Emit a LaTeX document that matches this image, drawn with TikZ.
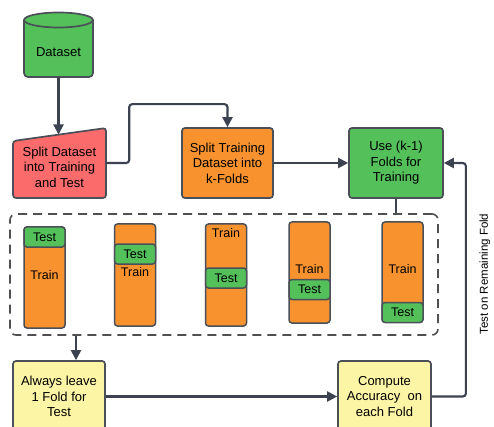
\documentclass[tikz,border=0pt]{standalone}
\usepackage{fontspec}
\setmainfont{Liberation Sans}
\usetikzlibrary{arrows.meta}
\definecolor{cgreen}{HTML}{54C05A}
\definecolor{corange}{HTML}{F8922E}
\definecolor{cred}{HTML}{FB6B6B}
\definecolor{cyellow}{HTML}{FDF5A6}
\definecolor{cline}{HTML}{3C4250}
\definecolor{cborder}{HTML}{4A4F58}
\definecolor{cdash}{HTML}{505050}
\begin{document}
\begin{tikzpicture}[x=1pt,y=-1pt,
  box/.style={draw=cborder, line width=1.7pt, rounded corners=3pt, align=center,
    font=\fontsize{13}{15.5}\selectfont, inner sep=0pt},
  txt/.style={align=center, font=\fontsize{13}{15.5}\selectfont, inner sep=0pt},
  conn/.style={draw=cline, line width=2.1pt, -{Triangle[length=10pt,width=10pt]}, rounded corners=3pt},
  plain/.style={draw=cline, line width=2.1pt},
  col/.style={draw=cborder, line width=1.5pt, fill=corange, rounded corners=3pt, minimum width=41pt, inner sep=0pt},
  testband/.style={draw=cborder, line width=1.5pt, fill=cgreen, rounded corners=3pt, minimum width=41pt, minimum height=20pt, inner sep=0pt, font=\fontsize{12.5}{14}\selectfont},
  foldtxt/.style={inner sep=0pt, font=\fontsize{12.5}{14}\selectfont},
  dashbox/.style={draw=cdash, line width=1.6pt, dash pattern=on 9pt off 6pt, rounded corners=6pt, inner sep=0pt}
]
\useasboundingbox (0,0) rectangle (494,427);
\clip (0,0) rectangle (494,427);

% Dataset cylinder
\draw[fill=cgreen, draw=cborder, line width=1.7pt, rounded corners=4pt] (24,20) -- (24,77) -- (93,77) -- (93,20);
\draw[fill=cgreen, draw=cborder, line width=1.7pt] (58.5,20) ellipse [x radius=34.5pt, y radius=7.5pt];
\node[txt, minimum height=50pt] (data) at (58.5,52) {Dataset};

% Red trapezoid
\draw[fill=cred, draw=cborder, line width=1.7pt, rounded corners=3pt] (13,141) -- (106,128) -- (106,198) -- (13,198) -- cycle;
\node[inner sep=0pt, minimum width=93pt, minimum height=70pt] (split) at (59.5,163) {};
\node[txt] (splitlbl) at (59.5,167) {Split Dataset\\into Training\\and Test};
\coordinate (splittop) at (58.5,134.5);

% Orange and green boxes
\node[box, fill=corange, minimum width=91pt, minimum height=70pt] (folds) at (227.5,163) {Split Training\\Dataset into\\k-Folds};
\node[box, fill=cgreen, minimum width=94pt, minimum height=70pt] (use) at (396,163) {Use (k-1)\\Folds for\\Training};

% Dashed k-fold area
\node[dashbox, minimum width=428pt, minimum height=121pt] (kfold) at (224,274.5) {};

% Fold columns
\node[col, minimum height=101pt] (c1) at (44.5,277.5) {};
\node[testband] (t1) at (44.5,237) {Test};
\node[foldtxt] (r1) at (44.5,275) {Train};

\node[col, minimum height=102pt] (c2) at (135,275) {};
\node[testband] (t2) at (135,254) {Test};
\node[foldtxt] (r2) at (135,272) {Train};

\node[col, minimum height=102pt] (c3) at (226,275) {};
\node[foldtxt] (r3) at (226,233) {Train};
\node[testband] (t3) at (226,278) {Test};

\node[col, minimum height=101pt] (c4) at (309.5,272.5) {};
\node[foldtxt] (r4) at (309.5,269) {Train};
\node[testband] (t4) at (309.5,289.5) {Test};

\node[col, minimum height=100pt] (c5) at (402.5,272) {};
\node[foldtxt] (r5) at (402.5,269) {Train};
\node[testband] (t5) at (402.5,312.5) {Test};

% Yellow boxes
\node[box, fill=cyellow, minimum width=92pt, minimum height=71pt] (leave) at (59,396.5) {Always leave\\1 Fold for\\Test};
\node[box, fill=cyellow, minimum width=93pt, minimum height=71pt] (acc) at (384.5,396.5) {Compute\\Accuracy~ on\\each Fold};

% Connectors
\draw[conn] (data.south) -- (splittop);
\draw[conn] (split.east) -- ++(23,0) |- ([yshift=23pt]folds.north) -- (folds.north);
\draw[conn] (folds.east) -- (use.west);
\draw[plain] (use.south) -- (use.south |- kfold.north);
\draw[conn] ([xshift=17pt]leave.north |- kfold.south) -- ([xshift=17pt]leave.north);
\draw[conn] (leave.east |- acc.west) -- (acc.west);
\draw[conn] (acc.east) -- ++(34,0) |- (use.east);

\node[rotate=90, inner sep=0pt, font=\fontsize{11.5}{13}\selectfont] (lbl) at (485,274) {Test on Remaining Fold};
\end{tikzpicture}
\end{document}
